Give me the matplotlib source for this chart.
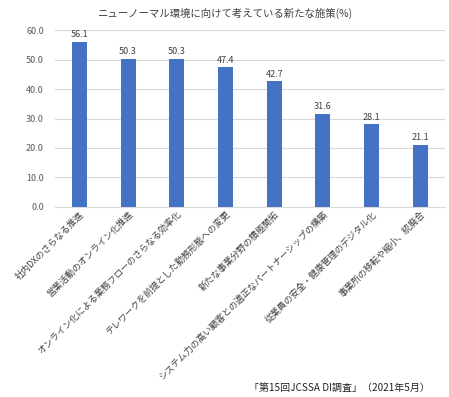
import numpy as np
import matplotlib
matplotlib.use('Agg')
import matplotlib.pyplot as plt

plt.rcParams['font.family'] = ['Noto Sans CJK JP', 'DejaVu Sans']

categories = [
    '社内DXのさらなる推進',
    '営業活動のオンライン化推進',
    'オンライン化による業務フローのさらなる効率化',
    'テレワークを前提とした勤務形態への変更',
    '新たな事業分野の積極開拓',
    'システム力の高い顧客との適正なパートナーシップの構築',
    '従業員の安全・健康管理のデジタル化',
    '事業所の移転や縮小、統廃合',
]
values = [56.1, 50.3, 50.3, 47.4, 42.7, 31.6, 28.1, 21.1]
yticks = [0, 10, 20, 30, 40, 50, 60]

fig = plt.figure(figsize=(4.49, 3.97), dpi=100)
ax = fig.add_axes([0.1225, 0.479, 0.868, 0.445])

x = np.arange(len(categories))
bars = ax.bar(x, values, width=0.31, color='#4472C4', zorder=3)
for b, v in zip(bars, values):
    ax.text(b.get_x() + b.get_width() / 2, v + 0.8, f'{v:.1f}',
            ha='center', va='bottom', fontsize=6.5, color='#404040')

ax.set_ylim(0, 60)
ax.set_xlim(-0.5, len(categories) - 0.5)
ax.set_yticks(yticks)
ax.set_yticklabels([f'{t:.1f}' for t in yticks], fontsize=6.5, color='#595959')
ax.yaxis.grid(True, color='#d9d9d9', linewidth=0.8, zorder=0)
ax.tick_params(axis='y', length=0, pad=8)
ax.tick_params(axis='x', length=0, pad=2)
for s in ['top', 'right', 'left']:
    ax.spines[s].set_visible(False)
ax.spines['bottom'].set_color('#d9d9d9')

ax.set_xticks(x)
ax.set_xticklabels(categories, rotation=45, ha='right', rotation_mode='anchor',
                   fontsize=6.5, color='#404040')

fig.text(0.5, 0.967, 'ニューノーマル環境に向けて考えている新たな施策(%)',
         ha='center', va='center', fontsize=7.5, color='#404040')
fig.text(0.958, 0.023, '「第15回JCSSA DI調査」（2021年5月）',
         ha='right', va='center', fontsize=7.2, color='#222222')

fig.savefig('out.png', dpi=100)
